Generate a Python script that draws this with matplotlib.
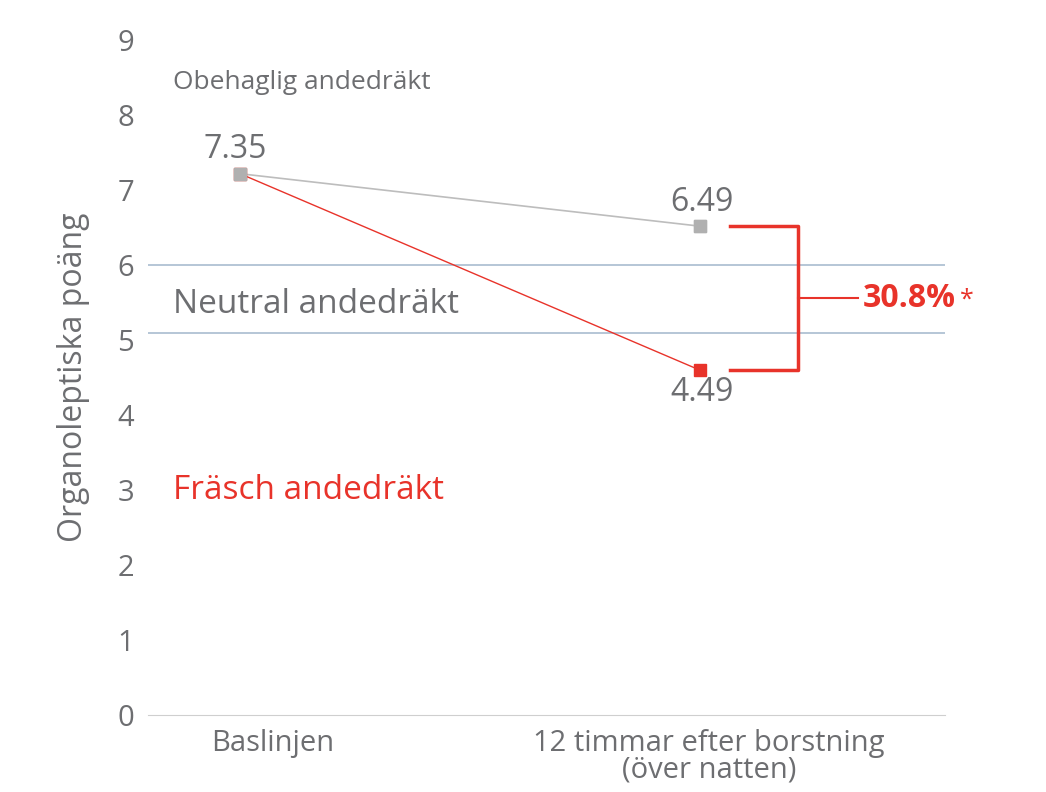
import matplotlib.pyplot as plt

plt.rcParams['font.family'] = ['Open Sans', 'DejaVu Sans']

categories = ['Baslinjen', '12 timmar efter borstning\n(över natten)']
control = [7.22, 6.52]
treated = [7.22, 4.60]
control_labels = ['7.35', '6.49']
treated_label = '4.49'
reduction = '30.8%'
zone_lines = [6.0, 5.1]

gray = '#6d6e71'
red = '#e8332a'

fig = plt.figure(figsize=(10.46, 7.92), dpi=100)
ax = fig.add_axes([0.1415, 0.0972, 0.762, 0.852])
ax.set_xlim(-0.2, 1.533)
ax.set_ylim(0, 9)

for y in zone_lines:
    ax.axhline(y, color='#a9bccf', lw=1.2, zorder=1)

ax.plot([0, 1], control, color='#bdbdbd', lw=1.2, marker='s', ms=8, zorder=3)
ax.plot([0, 1], treated, color=red, lw=1, marker='s', ms=8, zorder=3)
ax.plot([0], [control[0]], marker='s', ms=8, color='#b0b0b0', zorder=4)
ax.plot([1], [control[1]], marker='s', ms=8, color='#b0b0b0', zorder=4)

ax.text(-0.01, control[0] + 0.1, control_labels[0], color=gray, fontsize=23, ha='center', va='bottom')
ax.text(1.005, control[1] + 0.1, control_labels[1], color=gray, fontsize=23, ha='center', va='bottom')
ax.text(1.005, treated[1] - 0.08, treated_label, color=gray, fontsize=23, ha='center', va='top')

# bracket
bx0, bx1, bx2 = 1.065, 1.213, 1.343
ax.plot([bx0, bx1, bx1, bx0], [control[1], control[1], treated[1], treated[1]], color=red, lw=2.5, clip_on=False)
mid = (control[1] + treated[1]) / 2
ax.plot([bx1, bx2], [mid, mid], color=red, lw=1.5, clip_on=False)
t = ax.text(bx2 + 0.01, mid, reduction, color=red, fontsize=23, fontweight='bold', va='center', ha='left')
fig.canvas.draw()
bb = t.get_window_extent()
ax.annotate('*', xy=(bb.x1, bb.y1), xycoords='figure pixels', xytext=(3, -4), textcoords='offset points',
            color=red, fontsize=18, va='top', ha='left', annotation_clip=False)

ax.text(-0.146, 8.44, 'Obehaglig andedräkt', color=gray, fontsize=19, va='center')
ax.text(-0.146, 5.47, 'Neutral andedräkt', color=gray, fontsize=24, va='center')
ax.text(-0.146, 3.0, 'Fräsch andedräkt', color=red, fontsize=24, va='center')

ax.set_yticks(range(10))
ax.set_xticks([0.07, 1.02])
ax.set_xticklabels(categories, fontsize=21, color=gray, linespacing=0.9)
ax.tick_params(axis='y', length=0, labelsize=21, labelcolor=gray, pad=10)
ax.tick_params(axis='x', length=0, pad=10)
for s in ['top', 'right', 'left']:
    ax.spines[s].set_visible(False)
ax.spines['bottom'].set_color('#cfcfcf')
ax.set_ylabel('Organoleptiska poäng', fontsize=23, color=gray, labelpad=20)

fig.savefig('out.png', dpi=100)
